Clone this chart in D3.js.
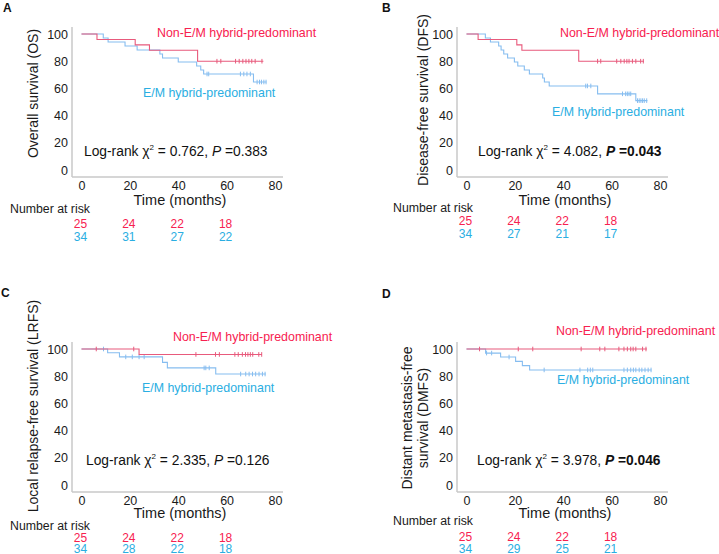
<!DOCTYPE html>
<html>
<head>
<meta charset="utf-8">
<script src="https://cdn.jsdelivr.net/npm/d3@7"></script>
<style>
body { margin: 0; background: #fff; }
svg { font-family: Arial, "Liberation Sans", sans-serif; }
text { white-space: pre; }
</style>
</head>
<body>
<script>
// ---- shared ticks / labels ----
const xTicks = [0, 20, 40, 60, 80];
const yTicks = [0, 20, 40, 60, 80, 100];
const riskTimes = [0, 20, 40, 60];
const groupNames = ["Non-E/M hybrid-predominant", "E/M hybrid-predominant"];

// ---- A: overall survival ----
const osRedSteps = [[0, 100], [6.4, 96], [22.2, 92], [28.1, 88], [48, 80]];
const osRedEnd = 75.2;
const osRedCensor = [56, 57.6, 63.7, 65.2, 66.7, 68, 69.2, 70.4, 71.8, 74.6];
const osBlueSteps = [[0, 100], [9, 97.1], [11, 94.1], [18, 91.2], [23, 88.2], [32.4, 85.3], [33.5, 82.4],
    [40, 79.4], [47.6, 76.5], [49.3, 73.5], [50.5, 70.6], [71.1, 64.7]];
const osBlueEnd = 76.5;
const osBlueCensor = [51.9, 52.6, 65.7, 67.1, 68.4, 69.8, 72.6, 73.6, 74.4, 75.4, 76.3];
const osRiskRed = [25, 24, 22, 18];
const osRiskBlue = [34, 31, 27, 22];
const osStat = ["0.762", "0.383"];

// ---- B: disease-free survival ----
const dfsRedSteps = [[0, 100], [4.8, 96], [20.8, 92], [22.9, 88], [46.4, 80]];
const dfsRedEnd = 73.4;
const dfsRedCensor = [54.2, 55.5, 62.1, 63.8, 65.2, 66.3, 67.2, 68.6, 70, 72, 73.1];
const dfsBlueSteps = [[0, 100], [7.8, 97.1], [9.9, 94.1], [13.3, 91.2], [14.3, 88.2], [15.4, 85.3], [17, 82.4],
    [19.8, 79.4], [21.2, 76.5], [23.9, 73.5], [26, 70.6], [31.5, 67.6], [32.2, 64.7], [34.2, 61.8],
    [54.2, 56], [70, 51]];
const dfsBlueEnd = 74.8;
const dfsBlueCensor = [49.3, 50, 51.4, 64.5, 65.8, 66.5, 67.2, 67.9, 70.7, 71.4, 72.1, 72.8, 73.5, 74.5];
const dfsRiskRed = [25, 24, 22, 18];
const dfsRiskBlue = [34, 27, 21, 17];
const dfsStat = ["4.082", "0.043"];

// ---- C: local relapse-free survival ----
const lrfsRedSteps = [[0, 100], [23.8, 96]];
const lrfsRedEnd = 74.6;
const lrfsRedCensor = [6.1, 21.6, 47.3, 55.4, 57, 63.4, 64.8, 66.5, 67.8, 68.8, 69.8, 70.8, 73.3, 74.5];
const lrfsBlueSteps = [[0, 100], [10.8, 97.2], [15.7, 94.2], [33.5, 90.2], [35.5, 86.1], [55.5, 81.6]];
const lrfsBlueEnd = 76.2;
const lrfsBlueCensor = [9.1, 18.3, 21, 23.8, 25.9, 50.7, 51.4, 52.8, 65.8, 67.9, 69.3, 70.7, 72, 73.4, 74.8, 75.9];
const lrfsRiskRed = [25, 24, 22, 18];
const lrfsRiskBlue = [34, 28, 22, 18];
const lrfsStat = ["2.335", "0.126"];

// ---- D: distant metastasis-free survival ----
const dmfsRedSteps = [[0, 100]];
const dmfsRedEnd = 74.6;
const dmfsRedCensor = [5.4, 21.4, 27.4, 47.4, 55.1, 57.2, 63, 65.1, 66.5, 67.9, 68.9, 70, 72.8, 74.2];
const dmfsBlueSteps = [[0, 100], [7.9, 97], [14.1, 94.1], [20.3, 90.9], [23.1, 87.8], [26.1, 84.6]];
const dmfsBlueEnd = 76.5;
const dmfsBlueCensor = [8.3, 10.4, 17.6, 32.1, 46.9, 50.1, 51.2, 52.2, 65.1, 66.5, 67.9, 69, 70, 71.4, 72.5, 73.8, 75.1, 76.3];
const dmfsRiskRed = [25, 24, 22, 18];
const dmfsRiskBlue = [34, 29, 25, 21];
const dmfsStat = ["3.978", "0.046"];

// colours
const redText = "#f72150", blueText = "#2aaee2";
const redLine = "#e85a7c", blueLine = "#86bdf0";
const axisGrey = "#c9c9c9";

const svg = d3.select("body").append("svg")
    .attr("width", 719)
    .attr("height", 554);

// panel layout (local coords inside each panel)
const panels = [
    {letter: "A", lx: 3, ly: 12, ox: 0, oy: 0,
     ylabel: ["Overall survival (OS)"], ylx: [33], yly: 93.5,
     red: [osRedSteps, osRedEnd, osRedCensor], blue: [osBlueSteps, osBlueEnd, osBlueCensor],
     riskRed: osRiskRed, riskBlue: osRiskBlue, stat: osStat, bold: false,
     redLab: [157, 36.5], blueLab: [143, 96.5], statPos: [84, 156],
     timeY: 205, narX: 10, narY: 212.5, rowY: [227.5, 241]},
    {letter: "B", lx: 382, ly: 12, ox: 385, oy: 0,
     ylabel: ["Disease-free survival (DFS)"], ylx: [38.3], yly: 100,
     red: [dfsRedSteps, dfsRedEnd, dfsRedCensor], blue: [dfsBlueSteps, dfsBlueEnd, dfsBlueCensor],
     riskRed: dfsRiskRed, riskBlue: dfsRiskBlue, stat: dfsStat, bold: true,
     redLab: [175, 36.5], blueLab: [167, 115.5], statPos: [93, 156],
     timeY: 205, narX: 8, narY: 212, rowY: [225.3, 237.5]},
    {letter: "C", lx: 1, ly: 297, ox: 0, oy: 315,
     ylabel: ["Local relapse-free survival (LRFS)"], ylx: [33], yly: 91,
     red: [lrfsRedSteps, lrfsRedEnd, lrfsRedCensor], blue: [lrfsBlueSteps, lrfsBlueEnd, lrfsBlueCensor],
     riskRed: lrfsRiskRed, riskBlue: lrfsRiskBlue, stat: lrfsStat, bold: false,
     redLab: [173, 25.5], blueLab: [142, 76.5], statPos: [86, 150],
     timeY: 203, narX: 10, narY: 215, rowY: [227.3, 238]},
    {letter: "D", lx: 382, ly: 298, ox: 385, oy: 315,
     ylabel: ["Distant metastasis-free", "survival (DMFS)"], ylx: [21.7, 38.3], yly: 103,
     red: [dmfsRedSteps, dmfsRedEnd, dmfsRedCensor], blue: [dmfsBlueSteps, dmfsBlueEnd, dmfsBlueCensor],
     riskRed: dmfsRiskRed, riskBlue: dmfsRiskBlue, stat: dmfsStat, bold: true,
     redLab: [171, 19.5], blueLab: [172, 68.5], statPos: [92, 149.5],
     timeY: 202.5, narX: 8, narY: 210, rowY: [226, 237.5]}
];

function survAt(steps, t) {
    let s = steps[0][1];
    steps.forEach(d => { if (d[0] <= t) s = d[1]; });
    return s;
}

function drawPanel(p) {
    svg.append("text")
        .attr("x", p.lx).attr("y", p.ly)
        .attr("font-size", 12).attr("font-weight", "bold").attr("fill", "#111")
        .text(p.letter);

    const g = svg.append("g").attr("transform", "translate(" + p.ox + "," + p.oy + ")");
    const x = d3.scaleLinear().domain([0, 80]).range([81.5, 275]);
    const y = d3.scaleLinear().domain([0, 100]).range([170, 34]);

    // axis lines
    g.append("line").attr("x1", 72).attr("x2", 72).attr("y1", 27).attr("y2", 177)
        .attr("stroke", axisGrey).attr("stroke-width", 1.5);
    g.append("line").attr("x1", 72).attr("x2", 283).attr("y1", 177).attr("y2", 177)
        .attr("stroke", axisGrey).attr("stroke-width", 1.5);

    const yAxis = g.append("g").attr("transform", "translate(72,0)")
        .call(d3.axisLeft(y).tickValues(yTicks).tickSize(0).tickPadding(4));
    const xAxis = g.append("g").attr("transform", "translate(0,177)")
        .call(d3.axisBottom(x).tickValues(xTicks).tickSize(0).tickPadding(4));
    [yAxis, xAxis].forEach(a => {
        a.select(".domain").remove();
        a.selectAll("text").attr("font-size", 12.5).attr("fill", "#1a1a1a")
            .attr("font-family", "Arial, 'Liberation Sans', sans-serif");
    });

    // y label
    p.ylabel.forEach((lab, i) => {
        g.append("text")
            .attr("transform", "translate(" + p.ylx[i] + "," + p.yly + ") rotate(-90)")
            .attr("text-anchor", "middle").attr("dy", "0.35em")
            .attr("font-size", 14).attr("fill", "#1a1a1a")
            .text(lab);
    });

    g.append("text").attr("x", 180).attr("y", p.timeY)
        .attr("text-anchor", "middle").attr("font-size", 14.5).attr("fill", "#1a1a1a")
        .text("Time (months)");

    // curves
    const line = d3.line().curve(d3.curveStepAfter)
        .x(d => x(d[0])).y(d => y(d[1]));
    [[p.blue, blueLine], [p.red, redLine]].forEach(([ser, col]) => {
        const steps = ser[0], end = ser[1], cens = ser[2];
        const pts = steps.concat([[end, steps[steps.length - 1][1]]]);
        g.append("path").datum(pts)
            .attr("fill", "none").attr("stroke", col).attr("stroke-width", 1.1)
            .attr("d", line);
        g.selectAll(null).data(cens).enter().append("line")
            .attr("x1", d => x(d)).attr("x2", d => x(d))
            .attr("y1", d => y(survAt(steps, d)) - 2.3)
            .attr("y2", d => y(survAt(steps, d)) + 2.3)
            .attr("stroke", col).attr("stroke-width", 1);
    });

    // group labels
    g.append("text").attr("x", p.redLab[0]).attr("y", p.redLab[1])
        .attr("font-size", 12.4).attr("fill", redText).text(groupNames[0]);
    g.append("text").attr("x", p.blueLab[0]).attr("y", p.blueLab[1])
        .attr("font-size", 12.4).attr("fill", blueText).text(groupNames[1]);

    // log-rank
    const st = g.append("text").attr("x", p.statPos[0]).attr("y", p.statPos[1])
        .attr("font-size", 13.8).attr("fill", "#111");
    st.append("tspan").text("Log-rank χ");
    st.append("tspan").attr("font-size", 8).attr("dy", -6).text("2");
    st.append("tspan").attr("dy", 6).text(" = " + p.stat[0] + ", ");
    st.append("tspan").attr("font-style", "italic")
        .attr("font-weight", p.bold ? "bold" : null).text("P");
    st.append("tspan").attr("font-weight", p.bold ? "bold" : null).text(" =" + p.stat[1]);

    // number at risk
    g.append("text").attr("x", p.narX).attr("y", p.narY)
        .attr("font-size", 12.3).attr("fill", "#1a1a1a").text("Number at risk");
    [[p.riskRed, redText, p.rowY[0]], [p.riskBlue, blueText, p.rowY[1]]].forEach(([vals, col, yy]) => {
        g.selectAll(null).data(vals).enter().append("text")
            .attr("x", (d, i) => x(riskTimes[i]) - 1)
            .attr("y", yy)
            .attr("text-anchor", "middle").attr("font-size", 12).attr("fill", col)
            .text(d => d);
    });
}

panels.forEach(drawPanel);
</script>
</body>
</html>
